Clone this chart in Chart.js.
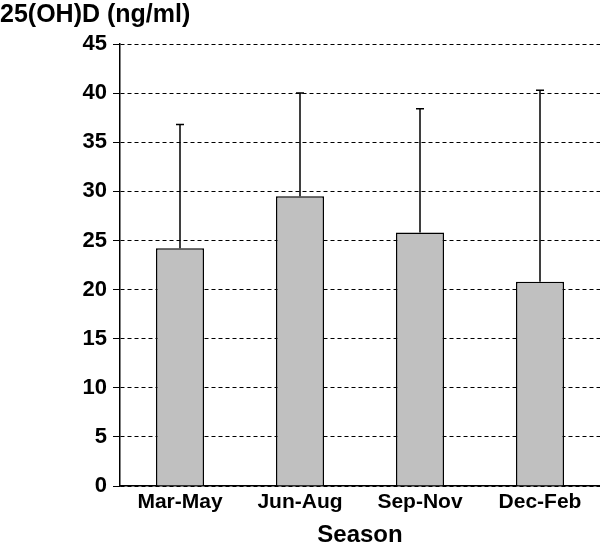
<!DOCTYPE html>
<html>
<head>
<meta charset="utf-8">
<script src="https://cdn.jsdelivr.net/npm/chart.js@4"></script>
<style>
  html, body { margin: 0; padding: 0; background: #fff; }
  canvas { display: block; }
</style>
</head>
<body>
<canvas id="bar-chart" width="600" height="550"></canvas>
<script>
const seasons = ["Mar-May", "Jun-Aug", "Sep-Nov", "Dec-Feb"];
const means = [24.2, 29.5, 25.8, 20.8];
const sds = [12.6, 10.5, 12.6, 19.5];
const yTicks = [0, 5, 10, 15, 20, 25, 30, 35, 40, 45];

const FONT = "'Liberation Sans', Arial, Helvetica, sans-serif";

// one-sided (upper) error bars with a small cap
const errorBars = {
  id: "errorBars",
  afterDatasetsDraw(chart) {
    const ctx = chart.ctx;
    const yScale = chart.scales.y;
    const meta = chart.getDatasetMeta(0);
    ctx.save();
    ctx.setLineDash([]);
    ctx.strokeStyle = "#000";
    ctx.lineWidth = 1.5;
    meta.data.forEach((bar, i) => {
      const x = bar.x;
      const yTop = yScale.getPixelForValue(means[i] + sds[i]);
      ctx.beginPath();
      ctx.moveTo(x, bar.y);
      ctx.lineTo(x, yTop);
      ctx.moveTo(x - 4, yTop);
      ctx.lineTo(x + 4, yTop);
      ctx.stroke();
    });
    ctx.restore();
  },
};

const bar = document.getElementById("bar-chart").getContext("2d");
const barChart = new Chart(bar, {
  type: "bar",
  data: {
    labels: seasons,
    datasets: [
      {
        data: means,
        backgroundColor: "#c0c0c0",
        borderColor: "#000",
        borderWidth: 1.5,
        barPercentage: 0.4,
        categoryPercentage: 1,
      },
    ],
  },
  options: {
    responsive: false,
    animation: false,
    layout: { padding: 0 },
    plugins: {
      legend: { display: false },
      tooltip: { enabled: false },
      title: {
        display: true,
        text: "25(OH)D (ng/ml)",
        align: "start",
        color: "#000",
        font: { family: FONT, size: 25, weight: "bold" },
        padding: { top: 0, bottom: 14 },
      },
    },
    scales: {
      x: {
        grid: { display: false, drawTicks: false },
        border: { display: true, color: "#000", width: 1.5 },
        ticks: {
          color: "#000",
          padding: 4,
          font: { family: FONT, size: 21, weight: "bold" },
        },
        title: {
          display: true,
          text: "Season",
          color: "#000",
          font: { family: FONT, size: 24, weight: "bold" },
          padding: { top: 2, bottom: 0 },
        },
      },
      y: {
        min: 0,
        max: 45,
        afterFit(scale) {
          scale.width = 120;
        },
        afterBuildTicks(scale) {
          scale.ticks = yTicks.map((v) => ({ value: v }));
        },
        grid: {
          color: "#000",
          lineWidth: 1,
          tickLength: 7,
          tickBorderDash: [],
          tickColor: "#000",
        },
        border: { display: true, color: "#000", width: 1.5, dash: [4, 3] },
        ticks: {
          color: "#000",
          padding: 6,
          font: { family: FONT, size: 22, weight: "bold" },
        },
      },
    },
  },
  plugins: [errorBars],
});
</script>
</body>
</html>
